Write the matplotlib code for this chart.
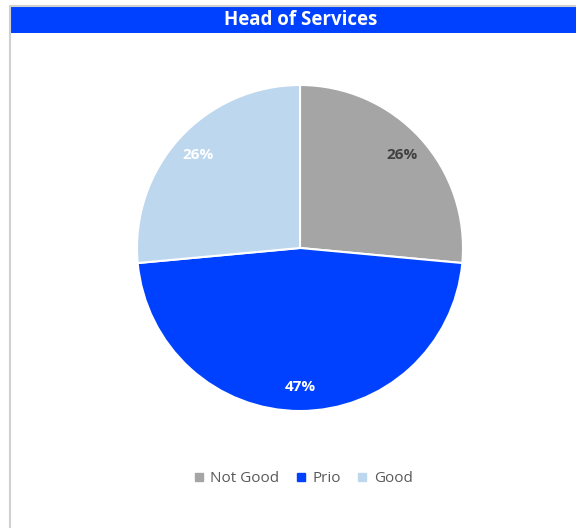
import matplotlib
matplotlib.use("Agg")
import matplotlib.pyplot as plt
from matplotlib.patches import Rectangle
from matplotlib.lines import Line2D

categories = ["Not Good", "Prio", "Good"]
values = [9, 16, 9]
colors = ["#A5A5A5", "#0041FF", "#BDD7EE"]
label_colors = ["#404040", "white", "white"]
title = "Head of Services"

plt.rcParams['font.family'] = ['Open Sans', 'DejaVu Sans']

W, H = 576, 528
fig = plt.figure(figsize=(W/100, H/100), dpi=100)
fig.patch.set_facecolor("white")

# frame lines
fig.add_artist(Line2D([10/W, 10/W], [0, 1 - 6/H], transform=fig.transFigure, color="#D0D0D0", lw=1.5))
fig.add_artist(Line2D([10/W, 1], [1 - 6/H, 1 - 6/H], transform=fig.transFigure, color="#D0D0D0", lw=1.5))
# title bar
fig.add_artist(Rectangle((11/W, 1 - 33/H), 1 - 11/W, 26/H, transform=fig.transFigure,
                         facecolor="#0041FF", edgecolor="none"))
fig.text(301/W, 1 - 20/H, title, color="white", fontsize=13.5, fontweight="bold",
         ha="center", va="center")

cx, cy, r = 300, 248, 163
ax = fig.add_axes([(cx - r)/W, 1 - (cy + r)/H, 2*r/W, 2*r/H])
wedges, texts, autotexts = ax.pie(values, colors=colors, startangle=90, counterclock=False,
                                  autopct=lambda p: f"{p:.0f}%", pctdistance=0.85,
                                  wedgeprops=dict(edgecolor="white", linewidth=1.5))
for t, c in zip(autotexts, label_colors):
    t.set_color(c)
    t.set_fontweight("bold")
    t.set_fontsize(11)
ax.set_xlim(-1, 1)
ax.set_ylim(-1, 1)
ax.set_aspect("equal")
ax.axis("off")

handles = [Line2D([], [], marker="s", linestyle="none", markersize=6, markerfacecolor=c,
                  markeredgecolor=c) for c in colors]
fig.legend(handles, categories, loc="center", bbox_to_anchor=(302/W, 1 - 479/H),
           ncol=3, frameon=False, fontsize=11, labelcolor="#595959",
           handletextpad=0.25, columnspacing=0.9, handlelength=1.0)

fig.savefig("out.png", dpi=100)
